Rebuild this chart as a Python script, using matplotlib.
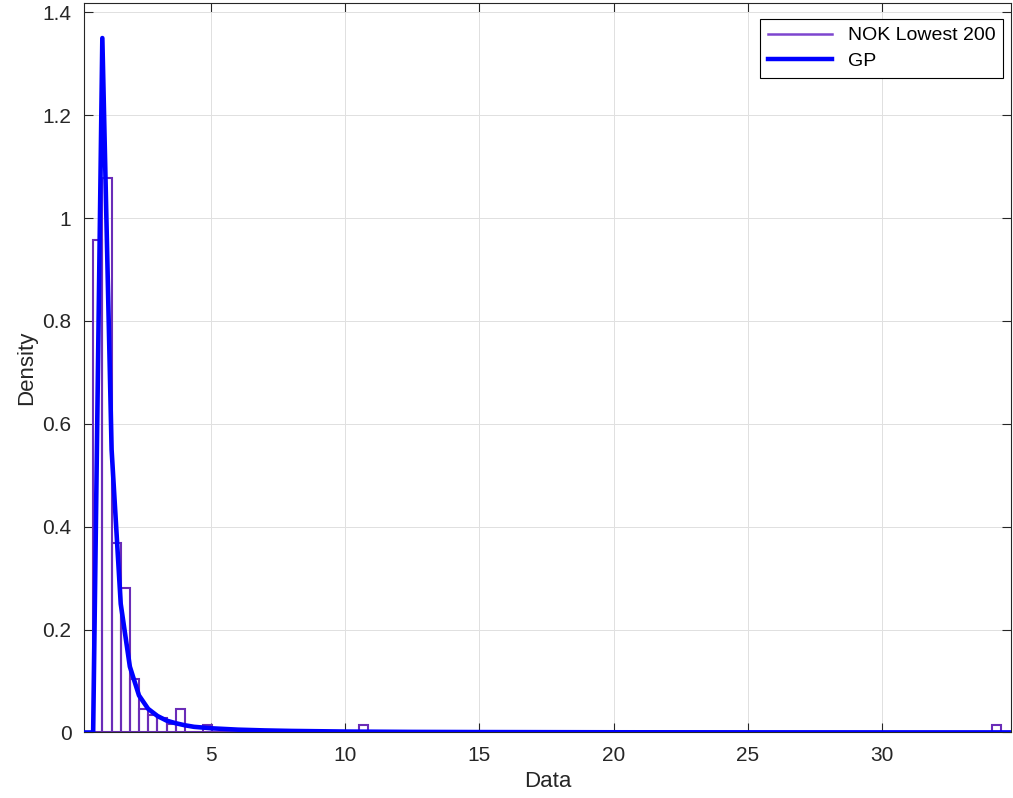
import matplotlib
matplotlib.use("Agg")
import matplotlib.pyplot as plt
from matplotlib.lines import Line2D
import numpy as np

plt.rcParams['font.family'] = ['Liberation Sans', 'DejaVu Sans']

# --- histogram (density) ---
hist_first_edge = 0.613
hist_bin_width = 0.3417
n_bins = 99
hist_density = [0.958, 1.077, 0.369, 0.280, 0.104, 0.046, 0.034, 0.028,
                0.016, 0.045, 0.0, 0.0, 0.015]
outlier_bins = {29: 0.015, 98: 0.015}   # isolated single observations

# --- fitted GP pdf ---
gp_x = [0.271, 0.613, 0.955, 1.30, 1.64, 1.98, 2.32, 2.66, 3.01, 3.35, 3.69,
        4.03, 4.37, 4.72, 5.06, 6.0, 7.0, 8.0, 10.0, 12.5, 15.0, 20.0, 25.0,
        30.0, 34.78]
gp_y = [0.0, 0.0, 1.35, 0.55, 0.25, 0.128, 0.072, 0.046, 0.032, 0.023, 0.018,
        0.014, 0.011, 0.0095, 0.008, 0.0055, 0.004, 0.003, 0.0018, 0.0011,
        0.0008, 0.0004, 0.00025, 0.00017, 0.00013]

x_ticks = [5, 10, 15, 20, 25, 30]
y_ticks = [0, 0.2, 0.4, 0.6, 0.8, 1.0, 1.2, 1.4]
y_ticklabels = ['0', '0.2', '0.4', '0.6', '0.8', '1', '1.2', '1.4']

PURPLE = '#6a2cb8'
DARK = '#262626'

edges = hist_first_edge + hist_bin_width * np.arange(n_bins + 1)
heights = np.zeros(n_bins)
heights[:len(hist_density)] = hist_density
for i, v in outlier_bins.items():
    heights[i] = v

fig = plt.figure(figsize=(10.13, 7.98), dpi=100)
ax = fig.add_axes([0.0829, 0.0821, 0.9148, 0.9145])

ax.bar(edges[:-1], heights, width=hist_bin_width, align='edge', fill=False,
       edgecolor=PURPLE, linewidth=1.5, zorder=2)
ax.plot(gp_x, gp_y, color='blue', linewidth=3.3, zorder=3,
        solid_joinstyle='round', solid_capstyle='round')

ax.set_xlim(edges[0] - hist_bin_width, edges[-1] + hist_bin_width)
ax.set_ylim(0, 1.4187)
ax.set_xticks(x_ticks)
ax.set_yticks(y_ticks)
ax.set_yticklabels(y_ticklabels)

ax.grid(True, color='#e0e0e0', linewidth=0.7)
ax.set_axisbelow(True)
ax.tick_params(direction='in', length=6.5, width=0.8, colors=DARK,
               labelsize=15, top=True, right=True, pad=9)
ax.tick_params(axis='x', pad=10)
for s in ax.spines.values():
    s.set_color(DARK)
    s.set_linewidth(0.8)

ax.set_xlabel('Data', fontsize=16, color=DARK, labelpad=4)
ax.set_ylabel('Density', fontsize=16, color=DARK)

# legend handles: plain lines
handles = [Line2D([], [], color='#7d45cf', linewidth=1.8),
           Line2D([], [], color='blue', linewidth=3.2)]
leg = ax.legend(handles, ['NOK Lowest 200', 'GP'], loc='upper right',
                bbox_to_anchor=(0.9917, 0.9777), borderaxespad=0,
                fontsize=14, handlelength=3.3, fancybox=False, framealpha=1,
                edgecolor='black', labelspacing=0.4, borderpad=0.4)
leg.get_frame().set_linewidth(0.8)

fig.savefig('out.png', dpi=100)
